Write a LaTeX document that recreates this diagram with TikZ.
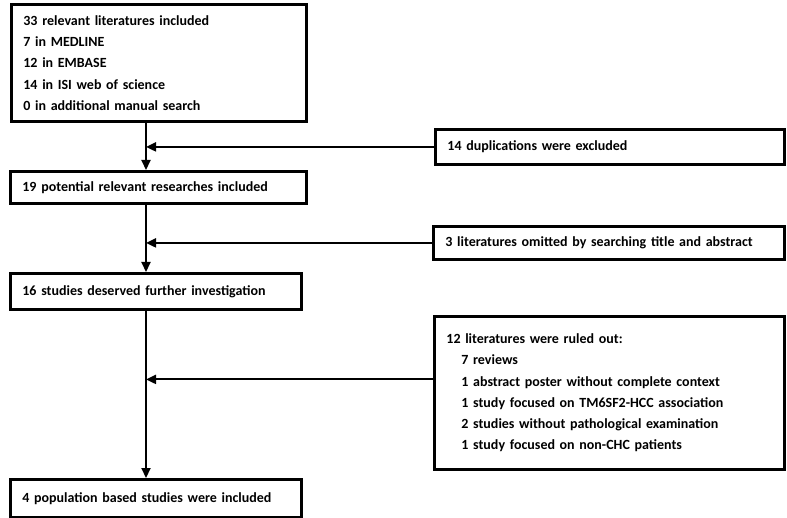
\documentclass[tikz,border=0pt]{standalone}
\usepackage{fontspec}
\setmainfont{Carlito}
\usetikzlibrary{arrows.meta}
\begin{document}
\begin{tikzpicture}[x=1pt,y=-1pt,
  box/.style={draw, line width=2.8pt, anchor=north west, inner xsep=12pt, inner ysep=0pt,
    align=left, font=\fontsize{14}{21.3}\selectfont\bfseries},
  arr/.style={line width=2.2pt, -{Triangle[length=10pt,width=9pt]}}]
\useasboundingbox (0,0) rectangle (787,518);
\node[box, text width=271pt, minimum height=117pt] (b1) at (10,3)
  {33 relevant literatures included\\7 in MEDLINE\\12 in EMBASE\\14 in ISI web of science\\0 in additional manual search};
\node[box, text width=325pt, minimum height=35pt] (dup) at (434,128) {14 duplications were excluded};
\node[box, text width=272pt, minimum height=32pt] (b2) at (9,170) {19 potential relevant researches included};
\node[box, text width=327pt, minimum height=33pt] (lit3) at (432,225) {3 literatures omitted by searching title and abstract};
\node[box, text width=267pt, minimum height=36pt] (b4) at (9,272) {16 studies deserved further investigation};
\node[box, text width=326pt, minimum height=153pt] (lit12) at (433,315)
  {12 literatures were ruled out:\\
   \hspace*{15pt}7 reviews\\
   \hspace*{15pt}1 abstract poster without complete context\\
   \hspace*{15pt}1 study focused on TM6SF2-HCC association\\
   \hspace*{15pt}2 studies without pathological examination\\
   \hspace*{15pt}1 study focused on non-CHC patients};
\node[box, text width=267pt, minimum height=38pt] (b6) at (9,478) {4 population based studies were included};
\coordinate (v) at (146,0);
\coordinate (e) at ([yshift=13.5pt]lit12.west);
\draw[arr] (v |- b1.south) -- (v |- b2.north);
\draw[arr] (v |- b2.south) -- (v |- b4.north);
\draw[arr] (v |- b4.south) -- (v |- b6.north);
\draw[arr] (dup.west) -- (dup.west -| v);
\draw[arr] (lit3.west) -- (lit3.west -| v);
\draw[arr] (e) -- (e -| v);
\end{tikzpicture}
\end{document}
